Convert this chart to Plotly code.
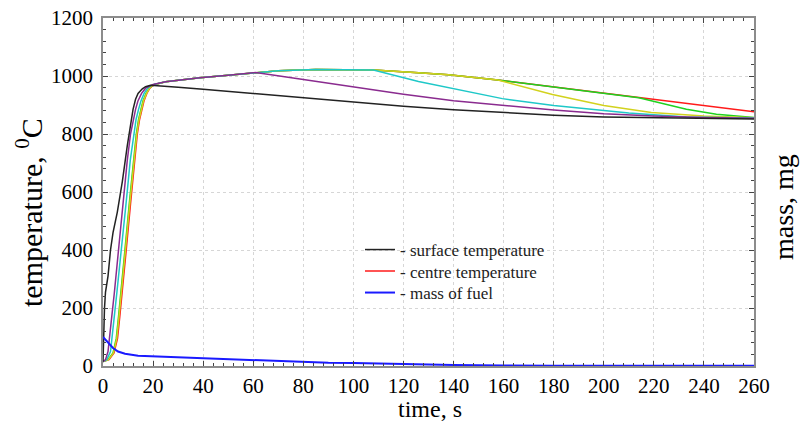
import plotly.graph_objects as go

# ---- data ----
surface_t = [0, 0.3, 0.6, 1.0, 2.0, 3.0, 4.0, 5.7, 7.7, 9.7, 11, 12, 13, 14, 15.7, 17, 19, 21,
             30, 40, 60, 80, 100, 120, 140, 160, 180, 200, 220, 240, 260]
surface_T = [15, 120, 200, 255, 310, 400, 460, 530, 635, 760, 840, 885, 920, 940, 956, 963, 968, 967,
             961, 954, 939, 924, 910, 896, 884, 874, 865, 859, 856, 854, 852]

purple_t = [0, 1, 2, 2.8, 3.5, 4.5, 6, 8, 9.7, 11, 12, 13, 14, 15.4, 17, 18.5, 20,
            25, 30, 38.7, 50, 61, 80, 100, 120, 140, 160, 180, 200, 220, 240, 260]
purple_T = [15, 22, 50, 105, 170, 250, 385, 560, 710, 800, 850, 885, 915, 940, 958, 966, 971,
            980, 986, 994, 1003, 1012, 988, 962, 937, 915, 898, 883, 870, 862, 857, 854]

cyan_t = [0, 1.5, 3, 3.8, 4.5, 5.5, 7.2, 9.2, 10.9, 12.2, 13.2, 14.2, 15.2, 16.4, 17.8, 19, 20.3,
          25, 30, 38.7, 50, 61, 70, 85, 100, 108, 126, 138, 159.5, 180, 193, 210, 233, 260]
cyan_T = [15, 22, 50, 105, 170, 250, 385, 560, 710, 800, 850, 885, 915, 940, 958, 966, 971,
          980, 986, 994, 1003, 1012, 1018, 1022, 1022, 1021, 981, 959, 922, 898, 886, 872, 859, 855]

yellow_t = [0, 2.2, 4.2, 5.5, 6.4, 7.4, 8.8, 10.7, 12.3, 13.5, 14.4, 15.3, 16.2, 17.4, 18.6, 19.6, 20.7,
            25, 30, 38.7, 50, 61, 70, 85, 100, 108, 126, 138, 157.7, 179.5, 200, 219, 240, 260]
yellow_T = [15, 22, 45, 95, 170, 250, 385, 560, 710, 800, 850, 885, 915, 940, 958, 966, 971,
            980, 986, 994, 1003, 1012, 1018, 1022, 1022, 1021, 1011, 1004, 986, 936, 898, 874, 862, 856]

green_t = [0, 2, 4, 5.3, 6.2, 7.2, 8.6, 10.5, 12.1, 13.3, 14.2, 15.1, 16, 17.2, 18.5, 19.5, 20.6,
           25, 30, 38.7, 50, 61, 70, 85, 100, 108, 126, 138, 157.7, 180, 200, 214, 233, 245, 260]
green_T = [15, 22, 45, 95, 170, 250, 385, 560, 710, 800, 850, 885, 915, 940, 958, 966, 971,
           980, 986, 994, 1003, 1012, 1018, 1022, 1022, 1021, 1011, 1004, 986, 962, 940, 925, 885, 868, 857]

centre_t = [0, 2.4, 4.4, 5.8, 6.7, 7.7, 9.1, 11, 12.5, 13.7, 14.6, 15.5, 16.4, 17.5, 18.7, 19.7, 20.8,
            25, 30, 38.7, 50, 61, 70, 85, 100, 108, 126, 138, 157.7, 180, 200, 214, 230, 245, 260]
centre_T = [15, 22, 45, 95, 170, 250, 385, 560, 710, 800, 850, 885, 915, 940, 958, 966, 971,
            980, 986, 994, 1003, 1012, 1018, 1022, 1022, 1021, 1011, 1004, 986, 962, 940, 925, 908, 893, 877]

mass_t = [0, 2, 4, 6, 8.8, 14, 20, 37, 63, 90, 100, 120, 140, 160, 180, 260]
mass_m = [100, 80, 62, 50, 42, 35, 33, 27, 18, 11, 10, 6, 3.5, 2, 1, 1]

x_ticks = list(range(0, 261, 20))
y_ticks = list(range(0, 1201, 200))

# ---- figure ----
fig = go.Figure()
FONT = "Liberation Serif"

def add(t, v, color, name=None, width=1.5, legend="legend"):
    fig.add_trace(go.Scatter(
        x=t, y=v, mode="lines", line=dict(color=color, width=width),
        name=name if name else "", showlegend=name is not None,
        legend=legend, hoverinfo="skip"))

# drawing order: bottom -> top
add(centre_t, centre_T, "#ff1a1a", "- centre temperature", legend="legend2")
add(green_t, green_T, "#1ed21e")
add(yellow_t, yellow_T, "#d2d21e")
add(cyan_t, cyan_T, "#1ec8c8")
add(purple_t, purple_T, "#8a2b8f")
add(surface_t, surface_T, "#222222", "- surface temperature", legend="legend")
add(mass_t, mass_m, "#1a1aff", "- mass of fuel", width=2, legend="legend3")

axis_common = dict(
    ticks="inside", ticklen=5, tickcolor="#444444", tickwidth=1,
    showline=True, linecolor="#8c8c8c", linewidth=1.5, mirror="allticks",
    showgrid=True, gridcolor="#d6d6d6", griddash="dot", gridwidth=1,
    zeroline=False, automargin=False, ticklabeloverflow="allow",
    tickfont=dict(family=FONT, size=21, color="black"),
)

fig.update_xaxes(range=[0, 260], tickmode="array", tickvals=x_ticks,
                 ticktext=[str(v) for v in x_ticks],
                 minor=dict(dtick=4, tick0=0, ticks="inside", ticklen=3,
                            tickcolor="#444444", showgrid=False),
                 **axis_common)
fig.update_yaxes(range=[0, 1200], tickmode="array", tickvals=y_ticks,
                 ticktext=[str(v) for v in y_ticks], ticklabelstandoff=4,
                 minor=dict(dtick=40, tick0=0, ticks="inside", ticklen=3,
                            tickcolor="#444444", showgrid=False),
                 **axis_common)

W, H = 801, 428
PL, PR, PT, PB = 103, 754, 18, 366          # plot-area edges in window pixels
L, T = PL, PT
R, B = W - PR, H - PB
pw, ph = PR - PL, PB - PT

def px(x):
    return (x - PL) / pw

def py(y):
    return (PB - y) / ph

leg_common = dict(xanchor="left", yanchor="middle", bgcolor="rgba(255,255,255,0)",
                  borderwidth=0, itemwidth=30,
                  font=dict(family=FONT, size=17, color="#222222"))

fig.update_layout(
    width=W, height=H,
    margin=dict(l=L, r=R, t=T, b=B),
    paper_bgcolor="white", plot_bgcolor="white",
    showlegend=True,
    legend=dict(x=px(360), y=py(250), **leg_common),
    legend2=dict(x=px(360), y=py(271.5), **leg_common),
    legend3=dict(x=px(360), y=py(293), **leg_common),
    annotations=[
        dict(text="temperature, <sup>0</sup>C", xref="paper", yref="paper",
             x=px(29), y=py(213), xanchor="center", yanchor="middle",
             textangle=-90, showarrow=False,
             font=dict(family=FONT, size=30, color="black")),
        dict(text="mass, mg", xref="paper", yref="paper",
             x=px(783), y=py(207), xanchor="center", yanchor="middle",
             textangle=-90, showarrow=False,
             font=dict(family=FONT, size=28, color="black")),
        dict(text="time, s", xref="paper", yref="paper",
             x=px(430), y=py(409), xanchor="center", yanchor="middle",
             showarrow=False,
             font=dict(family=FONT, size=24, color="black")),
    ],
)

fig.write_html("out.html", config={"displayModeBar": False},
               post_script="document.body.style.margin='0';document.body.style.overflow='hidden';")
